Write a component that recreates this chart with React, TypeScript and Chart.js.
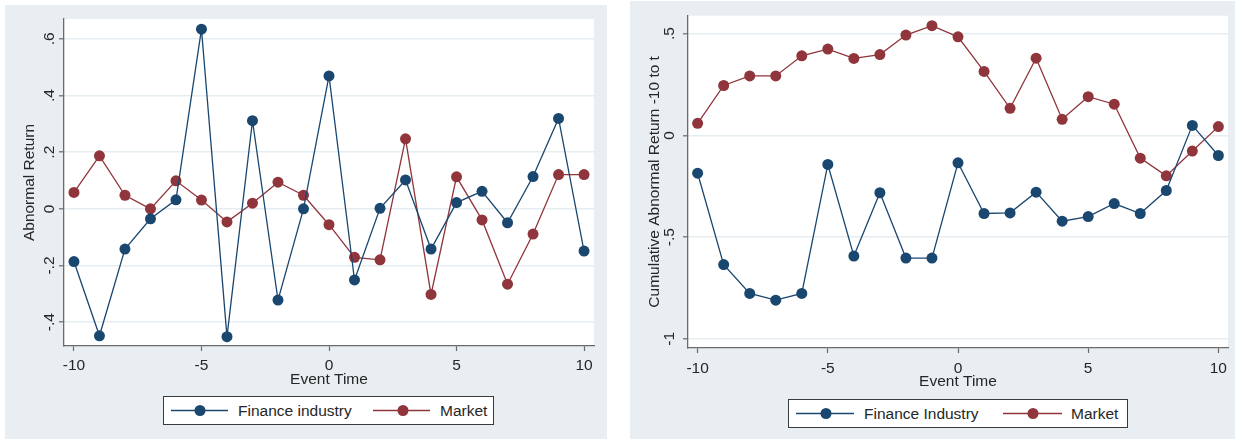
import React, { useEffect, useRef } from "react";
import { Chart, registerables } from "chart.js";

Chart.register(...registerables);

// ---------- data ----------
const eventTime = [-10, -9, -8, -7, -6, -5, -4, -3, -2, -1, 0, 1, 2, 3, 4, 5, 6, 7, 8, 9, 10];

const abnFinance = [-0.186, -0.448, -0.142, -0.035, 0.032, 0.634, -0.451, 0.311, -0.322, 0.0, 0.469,
  -0.251, 0.002, 0.102, -0.142, 0.022, 0.062, -0.049, 0.114, 0.319, -0.149];
const abnMarket = [0.058, 0.187, 0.048, 0.0, 0.099, 0.031, -0.046, 0.02, 0.094, 0.048, -0.056,
  -0.171, -0.18, 0.247, -0.302, 0.113, -0.039, -0.266, -0.089, 0.121, 0.121];

const carFinance = [-0.186, -0.635, -0.777, -0.81, -0.777, -0.143, -0.593, -0.282, -0.603, -0.603, -0.135,
  -0.384, -0.381, -0.279, -0.422, -0.399, -0.335, -0.384, -0.271, 0.049, -0.099];
const carMarket = [0.059, 0.245, 0.292, 0.292, 0.391, 0.424, 0.378, 0.397, 0.493, 0.539, 0.484,
  0.314, 0.133, 0.379, 0.079, 0.19, 0.153, -0.112, -0.199, -0.077, 0.043];

const xTicks = [-10, -5, 0, 5, 10];
const xTickLabels = ["-10", "-5", "0", "5", "10"];
const abnYTicks = [-0.4, -0.2, 0, 0.2, 0.4, 0.6];
const abnYTickLabels = ["-.4", "-.2", "0", ".2", ".4", ".6"];
const carYTicks = [-1, -0.5, 0, 0.5];
const carYTickLabels = ["-1", "-.5", "0", ".5"];

const abnSeriesNames = ["Finance industry", "Market"];
const carSeriesNames = ["Finance Industry", "Market"];
const xTitle = "Event Time";
const abnYTitle = "Abnormal Return";
const carYTitle = "Cumulative Abnormal Return -10 to t";

// ---------- styles ----------
const NAVY = "#1a476f";
const MAROON = "#90353b";
const PANEL_BG = "#e8eef2";
const GRID = "#e6edf1";
const AXIS = "#6a6a6a";
const TEXT = "#262626";
const FONT = "'Liberation Sans', Arial, Helvetica, sans-serif";
const FS = 15.5;

type PanelCfg = {
  left: number; top: number; width: number; height: number;
  pad: { left: number; top: number; right: number; bottom: number };
  yAxisWidth: number; xAxisHeight: number;
  xMin: number; xMax: number; yMin: number; yMax: number;
  yTicks: number[]; yTickLabels: string[];
  yTitle: string; yTitlePad: number; yLabelOffset: number; xTickPad: number;
  series: number[][]; names: string[];
  legend: { left: number; top: number; width: number; height: number;
    items: { l1: number; l2: number; m: number; t: number }[] };
};

const panels: PanelCfg[] = [
  {
    left: 5, top: 5, width: 602, height: 434,
    pad: { left: 0, top: 14, right: 13, bottom: 50 },
    yAxisWidth: 59, xAxisHeight: 43,
    xMin: -10.39, xMax: 10.39, yMin: -0.484, yMax: 0.67,
    yTicks: abnYTicks, yTickLabels: abnYTickLabels,
    yTitle: abnYTitle, yTitlePad: 15, yLabelOffset: 10, xTickPad: 5,
    series: [abnFinance, abnMarket], names: abnSeriesNames,
    legend: { left: 163, top: 396, width: 331, height: 29,
      items: [{ l1: 7, l2: 64, m: 36, t: 74 }, { l1: 209, l2: 266, m: 239, t: 276 }] },
  },
  {
    left: 630, top: 1, width: 605, height: 438,
    pad: { left: 0, top: 14.7, right: 7, bottom: 48 },
    yAxisWidth: 58, xAxisHeight: 43,
    xMin: -10.37, xMax: 10.37, yMin: -1.045, yMax: 0.588,
    yTicks: carYTicks, yTickLabels: carYTickLabels,
    yTitle: carYTitle, yTitlePad: 15, yLabelOffset: 14, xTickPad: 6,
    series: [carFinance, carMarket], names: carSeriesNames,
    legend: { left: 788, top: 399, width: 340, height: 29,
      items: [{ l1: 7, l2: 65, m: 37, t: 75 }, { l1: 214, l2: 273, m: 244, t: 282 }] },
  },
];

const colors = [NAVY, MAROON];

function Panel({ cfg }: { cfg: PanelCfg }) {
  const ref = useRef<HTMLCanvasElement | null>(null);

  useEffect(() => {
    if (!ref.current) return;
    const bgPlugin = {
      id: "plotBg",
      beforeDraw(chart: any) {
        const { ctx, chartArea: a } = chart;
        ctx.save();
        ctx.fillStyle = "#ffffff";
        ctx.fillRect(a.left, a.top, a.right - a.left, a.bottom - a.top);
        ctx.restore();
      },
    };
    const yLabelPlugin = {
      id: "yRotLabels",
      afterDraw(chart: any) {
        const { ctx, chartArea: a } = chart;
        const s = chart.scales.y;
        ctx.save();
        ctx.font = `${FS}px ${FONT}`;
        ctx.fillStyle = TEXT;
        ctx.textAlign = "center";
        ctx.textBaseline = "alphabetic";
        cfg.yTicks.forEach((v, i) => {
          const py = s.getPixelForValue(v);
          ctx.save();
          ctx.translate(a.left - cfg.yLabelOffset, py);
          ctx.rotate(-Math.PI / 2);
          ctx.fillText(cfg.yTickLabels[i], 0, 0);
          ctx.restore();
        });
        ctx.restore();
      },
    };

    const chart = new Chart(ref.current, {
      type: "line",
      data: {
        datasets: cfg.series.map((arr, k) => ({
          label: cfg.names[k],
          data: eventTime.map((x, i) => ({ x, y: arr[i] })),
          borderColor: colors[k],
          backgroundColor: colors[k],
          pointBackgroundColor: colors[k],
          pointBorderColor: colors[k],
          pointBorderWidth: 0,
          pointRadius: 5.5,
          borderWidth: 1.3,
          tension: 0,
          fill: false,
        })),
      },
      options: {
        animation: false,
        responsive: false,
        devicePixelRatio: 1,
        layout: { padding: cfg.pad },
        plugins: { legend: { display: false }, tooltip: { enabled: false }, title: { display: false } },
        scales: {
          x: {
            type: "linear",
            min: cfg.xMin,
            max: cfg.xMax,
            afterBuildTicks: (s: any) => { s.ticks = xTicks.map((v) => ({ value: v })); },
            afterFit: (s: any) => { s.height = cfg.xAxisHeight; },
            ticks: {
              autoSkip: false, maxRotation: 0, minRotation: 0,
              padding: cfg.xTickPad,
              color: TEXT,
              font: { family: FONT, size: FS },
              callback: (v: any) => { const i = xTicks.indexOf(Number(v)); return i >= 0 ? xTickLabels[i] : ""; },
            },
            grid: { drawOnChartArea: false, drawTicks: true, tickLength: 5, tickColor: AXIS, tickWidth: 1.2 },
            border: { display: true, color: AXIS, width: 1.3 },
            title: { display: true, text: xTitle, color: TEXT, font: { family: FONT, size: FS }, padding: { top: 0, bottom: 0 } },
          },
          y: {
            type: "linear",
            min: cfg.yMin,
            max: cfg.yMax,
            afterBuildTicks: (s: any) => { s.ticks = cfg.yTicks.map((v) => ({ value: v })); },
            afterFit: (s: any) => { s.width = cfg.yAxisWidth; },
            ticks: { display: false },
            grid: { drawOnChartArea: true, color: GRID, lineWidth: 1.6, drawTicks: true, tickLength: 5, tickColor: AXIS, tickWidth: 1.2 },
            border: { display: true, color: AXIS, width: 1.3 },
            title: { display: true, text: cfg.yTitle, color: TEXT, font: { family: FONT, size: FS }, padding: { top: cfg.yTitlePad, bottom: 0 } },
          },
        },
      } as any,
      plugins: [bgPlugin, yLabelPlugin],
    });
    return () => chart.destroy();
  }, [cfg]);

  const lg = cfg.legend;
  const innerH = lg.height - 2;
  return (
    <>
      <div style={{ position: "absolute", left: cfg.left, top: cfg.top, width: cfg.width, height: cfg.height, background: PANEL_BG }}>
        <canvas ref={ref} width={cfg.width} height={cfg.height} style={{ display: "block", width: cfg.width, height: cfg.height }} />
      </div>
      <div style={{ position: "absolute", left: lg.left, top: lg.top, width: lg.width, height: lg.height, boxSizing: "border-box", border: "1px solid #3a3a3a", background: "#ffffff" }}>
        <svg width={lg.width - 2} height={innerH} style={{ position: "absolute", left: 0, top: 0 }}>
          {lg.items.map((it, k) => (
            <g key={k}>
              <line x1={it.l1} x2={it.l2} y1={innerH / 2} y2={innerH / 2} stroke={colors[k]} strokeWidth={1.3} />
              <circle cx={it.m} cy={innerH / 2} r={5.5} fill={colors[k]} />
            </g>
          ))}
        </svg>
        {lg.items.map((it, k) => (
          <span key={k} style={{ position: "absolute", left: it.t, top: 0, lineHeight: innerH + "px", fontFamily: FONT, fontSize: FS, color: TEXT, whiteSpace: "nowrap" }}>
            {cfg.names[k]}
          </span>
        ))}
      </div>
    </>
  );
}

export default function App() {
  return (
    <div style={{ position: "absolute", left: 0, top: 0, width: 1235, height: 441, background: "#ffffff", overflow: "hidden" }}>
      {panels.map((p, i) => <Panel key={i} cfg={p} />)}
    </div>
  );
}
